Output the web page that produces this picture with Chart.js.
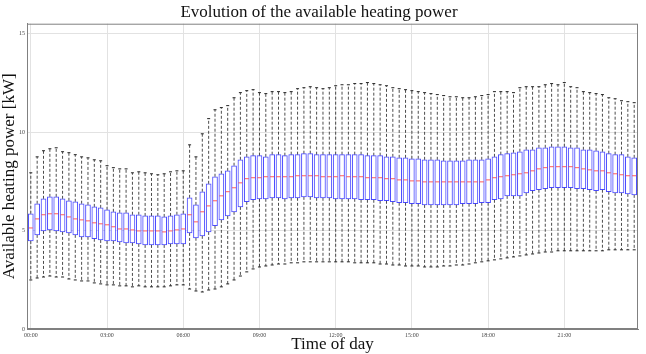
<!DOCTYPE html>
<html>
<head>
<meta charset="utf-8">
<script src="https://cdn.jsdelivr.net/npm/chart.js@4"></script>
<style>
    html, body { margin: 0; padding: 0; background: #fff; }
    #wrap { width: 646px; height: 354px; }
</style>
</head>
<body>
<div id="wrap"><canvas id="heating-chart" width="646" height="354"></canvas></div>
<script>
// Axis ticks (x is the quarter-hour slot index, 96 per day)
const tickSlots = [0, 12, 24, 36, 48, 60, 72, 84];
const tickLabels = ['00:00', '03:00', '06:00', '09:00', '12:00', '15:00', '18:00', '21:00'];
const yTicks = [0, 5, 10, 15];

// Box plot statistics per quarter hour [kW]
const whiskerHigh = [
    7.93, 8.74, 9.05, 9.15, 9.20, 9.00, 8.95, 8.85, 8.74, 8.69, 8.59, 8.54,
    8.29, 8.19, 8.13, 8.13, 7.93, 7.98, 7.93, 7.88, 7.83, 7.88, 7.98, 8.03,
    8.03, 9.35, 8.74, 9.91, 10.68, 11.13, 11.24, 11.34, 11.74, 12.00, 12.10, 12.15,
    12.00, 11.95, 12.05, 12.05, 12.00, 12.05, 12.20, 12.25, 12.30, 12.25, 12.20, 12.25,
    12.35, 12.40, 12.40, 12.46, 12.46, 12.51, 12.46, 12.40, 12.35, 12.25, 12.20, 12.15,
    12.10, 12.05, 12.00, 11.95, 11.90, 11.85, 11.79, 11.79, 11.74, 11.74, 11.79, 11.85,
    11.90, 12.05, 12.05, 12.05, 12.00, 12.25, 12.30, 12.30, 12.30, 12.40, 12.46, 12.40,
    12.51, 12.30, 12.25, 12.05, 12.00, 11.95, 11.90, 11.74, 11.69, 11.59, 11.54, 11.49
];
const upperQuartile = [
    5.85, 6.36, 6.61, 6.71, 6.71, 6.61, 6.51, 6.46, 6.36, 6.30, 6.20, 6.15,
    6.05, 5.95, 5.90, 5.90, 5.80, 5.80, 5.74, 5.74, 5.74, 5.69, 5.74, 5.80,
    5.85, 6.66, 6.30, 6.97, 7.37, 7.73, 7.88, 8.03, 8.29, 8.59, 8.74, 8.80,
    8.80, 8.74, 8.85, 8.85, 8.80, 8.85, 8.85, 8.90, 8.90, 8.85, 8.85, 8.85,
    8.85, 8.85, 8.85, 8.85, 8.85, 8.80, 8.80, 8.80, 8.74, 8.74, 8.69, 8.69,
    8.64, 8.64, 8.59, 8.59, 8.59, 8.54, 8.54, 8.54, 8.54, 8.59, 8.59, 8.59,
    8.64, 8.74, 8.85, 8.90, 8.95, 9.00, 9.10, 9.10, 9.20, 9.20, 9.25, 9.25,
    9.25, 9.20, 9.20, 9.10, 9.10, 9.05, 9.00, 8.90, 8.85, 8.85, 8.74, 8.69
];
const median = [
    5.13, 5.59, 5.80, 5.85, 5.85, 5.80, 5.69, 5.59, 5.54, 5.49, 5.39, 5.34,
    5.29, 5.19, 5.08, 5.08, 5.03, 4.98, 4.98, 4.98, 4.98, 4.93, 4.98, 5.03,
    5.08, 5.80, 5.44, 5.95, 6.25, 6.51, 6.76, 6.97, 7.17, 7.42, 7.63, 7.68,
    7.68, 7.73, 7.73, 7.73, 7.73, 7.73, 7.78, 7.78, 7.78, 7.78, 7.73, 7.73,
    7.73, 7.78, 7.73, 7.73, 7.73, 7.68, 7.68, 7.68, 7.63, 7.63, 7.57, 7.57,
    7.52, 7.52, 7.47, 7.47, 7.47, 7.47, 7.47, 7.47, 7.47, 7.47, 7.47, 7.47,
    7.57, 7.68, 7.73, 7.78, 7.83, 7.88, 7.93, 8.03, 8.13, 8.19, 8.24, 8.24,
    8.24, 8.24, 8.19, 8.13, 8.08, 8.03, 8.03, 7.93, 7.88, 7.83, 7.78, 7.78
];
const lowerQuartile = [
    4.47, 4.78, 4.98, 5.03, 4.98, 4.93, 4.88, 4.78, 4.68, 4.68, 4.58, 4.52,
    4.47, 4.47, 4.42, 4.37, 4.37, 4.32, 4.27, 4.27, 4.27, 4.27, 4.32, 4.32,
    4.32, 4.88, 4.63, 4.73, 4.93, 5.24, 5.54, 5.74, 5.95, 6.20, 6.46, 6.56,
    6.61, 6.61, 6.66, 6.66, 6.61, 6.66, 6.66, 6.71, 6.71, 6.66, 6.66, 6.66,
    6.61, 6.61, 6.61, 6.61, 6.56, 6.56, 6.56, 6.51, 6.51, 6.46, 6.41, 6.41,
    6.36, 6.36, 6.30, 6.30, 6.30, 6.30, 6.30, 6.30, 6.36, 6.36, 6.36, 6.41,
    6.41, 6.56, 6.61, 6.76, 6.76, 6.76, 6.91, 7.02, 7.07, 7.12, 7.17, 7.17,
    7.17, 7.17, 7.12, 7.12, 7.07, 7.02, 7.07, 6.97, 6.91, 6.91, 6.86, 6.81
];
const whiskerLow = [
    2.49, 2.59, 2.64, 2.69, 2.64, 2.64, 2.54, 2.49, 2.44, 2.44, 2.34, 2.29,
    2.24, 2.24, 2.19, 2.19, 2.14, 2.19, 2.14, 2.14, 2.14, 2.14, 2.19, 2.24,
    2.24, 2.03, 1.93, 1.88, 1.98, 2.03, 2.14, 2.29, 2.49, 2.69, 2.90, 3.05,
    3.15, 3.20, 3.25, 3.30, 3.30, 3.36, 3.36, 3.41, 3.41, 3.41, 3.41, 3.41,
    3.41, 3.41, 3.41, 3.36, 3.36, 3.36, 3.36, 3.30, 3.30, 3.25, 3.25, 3.20,
    3.20, 3.20, 3.15, 3.15, 3.15, 3.20, 3.20, 3.25, 3.25, 3.30, 3.36, 3.41,
    3.46, 3.51, 3.56, 3.61, 3.66, 3.71, 3.76, 3.81, 3.86, 3.91, 3.91, 3.97,
    3.97, 3.97, 3.97, 3.97, 3.97, 3.97, 3.97, 4.02, 4.02, 4.02, 4.02, 4.02
];

const serif = "'Liberation Serif', 'DejaVu Serif', serif";

// Vertical dashed segment per slot; the null point breaks the line between slots
function whiskerPoints(from, to) {
    const points = [];
    from.forEach((v, i) => {
        points.push({ x: i, y: v }, { x: i, y: to[i] }, { x: i, y: null });
    });
    return points;
}

function slotPoints(values) {
    return values.map((v, i) => ({ x: i, y: v }));
}

// Plot frame on all four sides
const framePlugin = {
    id: 'frame',
    afterDatasetsDraw(chart) {
        const { ctx, chartArea: a } = chart;
        ctx.save();
        ctx.strokeStyle = '#808080';
        ctx.lineWidth = 1;
        ctx.strokeRect(a.left + 0.5, a.top + 0.5, a.width - 1, a.height - 1);
        ctx.restore();
    }
};

const ctx = document.getElementById('heating-chart').getContext('2d');
new Chart(ctx, {
    data: {
        datasets: [
            {
                type: 'line',
                label: 'Upper whisker',
                data: whiskerPoints(upperQuartile, whiskerHigh),
                borderColor: 'rgba(0, 0, 0, 0.7)',
                borderWidth: 1,
                borderDash: [3, 2],
                pointRadius: 0,
                spanGaps: false,
                order: 4
            },
            {
                type: 'line',
                label: 'Lower whisker',
                data: whiskerPoints(lowerQuartile, whiskerLow),
                borderColor: 'rgba(0, 0, 0, 0.7)',
                borderWidth: 1,
                borderDash: [3, 2],
                pointRadius: 0,
                spanGaps: false,
                order: 4
            },
            {
                type: 'bar',
                label: 'Interquartile range',
                data: lowerQuartile.map((v, i) => ({ x: i, y: [v, upperQuartile[i]] })),
                backgroundColor: 'rgba(255, 255, 255, 1)',
                borderColor: 'rgba(30, 30, 255, 0.8)',
                borderWidth: 1,
                borderSkipped: false,
                barThickness: 5,
                order: 3
            },
            {
                type: 'scatter',
                label: 'Median',
                data: slotPoints(median),
                pointStyle: 'line',
                pointRadius: 2,
                borderColor: 'rgba(255, 50, 50, 0.8)',
                borderWidth: 1,
                order: 1
            },
            {
                type: 'scatter',
                label: 'Whisker caps',
                data: slotPoints(whiskerHigh).concat(slotPoints(whiskerLow)),
                pointStyle: 'line',
                pointRadius: 1.5,
                borderColor: '#222',
                borderWidth: 1,
                order: 1
            }
        ]
    },
    options: {
        responsive: false,
        animation: false,
        layout: { padding: { right: 8 } },
        plugins: {
            legend: { display: false },
            tooltip: { enabled: false },
            title: {
                display: true,
                text: 'Evolution of the available heating power',
                color: '#111',
                font: { family: serif, size: 17, weight: 'normal', lineHeight: 1.1 },
                padding: { top: 3, bottom: 2 }
            }
        },
        scales: {
            x: {
                type: 'linear',
                min: -0.6,
                max: 95.6,
                offset: false,
                afterBuildTicks: scale => {
                    scale.ticks = tickSlots.map(v => ({ value: v }));
                },
                afterFit: scale => { scale.height = 25; },
                ticks: {
                    autoSkip: false,
                    maxRotation: 0,
                    padding: 3,
                    color: '#444',
                    font: { family: serif, size: 6 },
                    callback: (value, index) => tickLabels[index]
                },
                grid: { color: '#e2e2e2', offset: false, drawTicks: false },
                border: { color: '#808080' },
                title: {
                    display: true,
                    text: 'Time of day',
                    color: '#111',
                    font: { family: serif, size: 17, lineHeight: 1 },
                    padding: { top: 0, bottom: 1 }
                }
            },
            y: {
                min: 0,
                max: 15.5,
                afterBuildTicks: scale => {
                    scale.ticks = yTicks.map(v => ({ value: v }));
                },
                afterFit: scale => { scale.width = 27; },
                ticks: {
                    padding: 2,
                    color: '#444',
                    font: { family: serif, size: 6 }
                },
                grid: { color: '#e2e2e2', drawTicks: false },
                border: { color: '#808080' },
                title: {
                    display: true,
                    text: 'Available heating power [kW]',
                    color: '#111',
                    font: { family: serif, size: 17, lineHeight: 1 },
                    padding: { top: 1, bottom: 0 }
                }
            }
        }
    },
    plugins: [framePlugin]
});
</script>
</body>
</html>
